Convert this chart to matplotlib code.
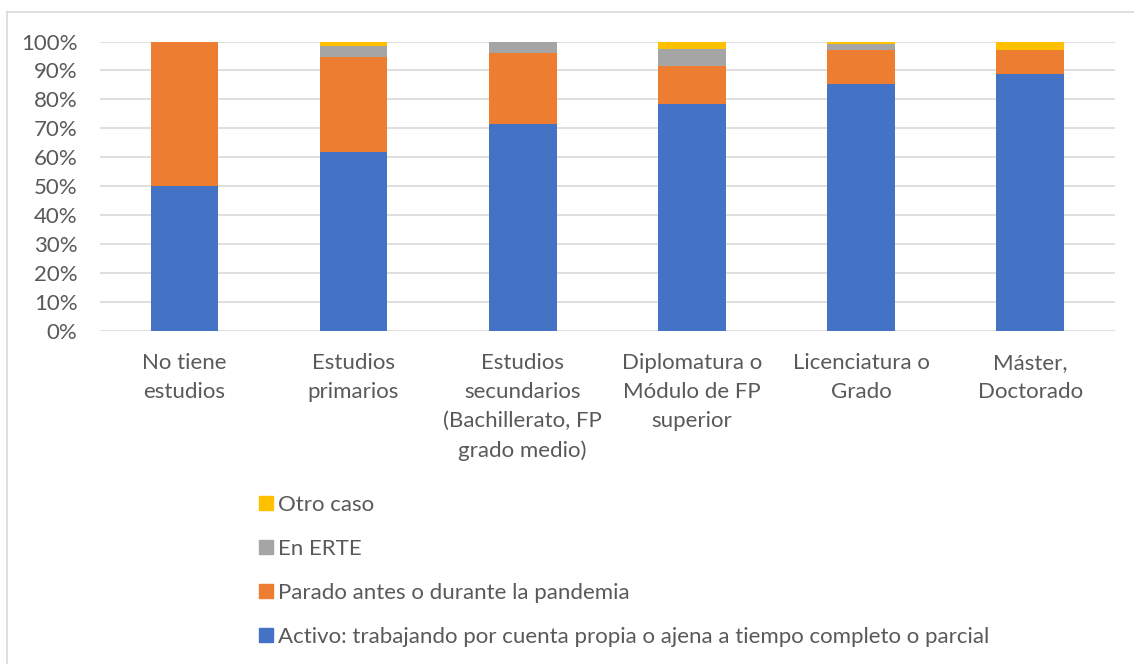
import matplotlib
matplotlib.use("Agg")
import matplotlib.pyplot as plt
from matplotlib.lines import Line2D
import numpy as np

plt.rcParams['font.family'] = ['Lato', 'DejaVu Sans']

categories = ["No tiene\nestudios", "Estudios\nprimarios",
              "Estudios\nsecundarios\n(Bachillerato, FP\ngrado medio)",
              "Diplomatura o\nMódulo de FP\nsuperior", "Licenciatura o\nGrado",
              "Máster,\nDoctorado"]
activo = [0.500, 0.620, 0.715, 0.784, 0.852, 0.887]
parado = [0.500, 0.326, 0.247, 0.131, 0.120, 0.083]
erte = [0.000, 0.037, 0.038, 0.058, 0.020, 0.000]
otro = [0.000, 0.017, 0.000, 0.027, 0.008, 0.030]

series = [
    ("Activo: trabajando por cuenta propia o ajena a tiempo completo o parcial", activo, "#4472C4"),
    ("Parado antes o durante la pandemia", parado, "#ED7D31"),
    ("En ERTE", erte, "#A5A5A5"),
    ("Otro caso", otro, "#FFC000"),
]

fig = plt.figure(figsize=(11.34, 6.64), dpi=100)
ax = fig.add_axes([0.088, 0.5015, 0.895, 0.436])

x = np.arange(len(categories))
bottom = np.zeros(len(categories))
handles = []
for label, vals, color in series:
    ax.bar(x, vals, width=0.4, bottom=bottom, color=color, zorder=3)
    bottom += np.array(vals)
    handles.append(Line2D([], [], marker='s', linestyle='none', markersize=9.5,
                          markerfacecolor=color, markeredgecolor=color, label=label))

ax.set_xlim(-0.5, len(categories) - 0.5)
ax.set_ylim(0, 1)
ax.set_yticks(np.arange(0, 1.01, 0.1))
ax.set_yticklabels([f"{int(round(v * 100))}%" for v in np.arange(0, 1.01, 0.1)])
ax.set_xticks(x)
ax.set_xticklabels(categories, linespacing=1.55)
ax.tick_params(axis='both', length=0, labelsize=16, labelcolor="#595959")
ax.tick_params(axis='y', pad=16)
ax.tick_params(axis='x', pad=16)
ax.grid(axis='y', color="#d9d9d9", linewidth=1.2, zorder=0)
for s in ax.spines.values():
    s.set_visible(False)

fig.legend(handles=handles[::-1], loc="upper left", bbox_to_anchor=(0.218, 0.268),
           frameon=False, fontsize=16, labelspacing=1.08, handletextpad=0.1,
           handlelength=0.9, borderaxespad=0, labelcolor="#595959")

# chart-area border (top and left visible)
fig.add_artist(Line2D([7 / 1134, 1], [1 - 12 / 664, 1 - 12 / 664], color="#d9d9d9", linewidth=1.2))
fig.add_artist(Line2D([7 / 1134, 7 / 1134], [0, 1 - 12 / 664], color="#d9d9d9", linewidth=1.2))

fig.savefig("out.png", dpi=100)
